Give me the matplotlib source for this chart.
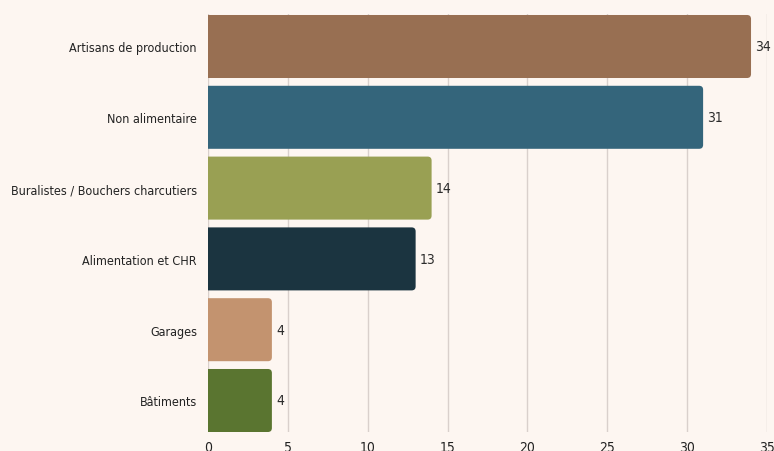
import matplotlib
matplotlib.use('Agg')
import matplotlib.pyplot as plt
from matplotlib.patches import FancyBboxPatch

# Data
categories = ['Artisans de production', 'Non alimentaire', 'Buralistes / Bouchers charcutiers',
              'Alimentation et CHR', 'Garages', 'Bâtiments']
values = [34, 31, 14, 13, 4, 4]
colors = ['#986f52', '#34657b', '#99a053', '#1b3440', '#c3936f', '#5a7530']
x_ticks = [0, 5, 10, 15, 20, 25, 30, 35]

# condensed face to get close to the narrow font of the original
plt.rcParams['font.family'] = ['DejaVu Sans']
plt.rcParams['font.stretch'] = 'condensed'

bg = '#fdf6f1'
fig = plt.figure(figsize=(7.74, 4.52), dpi=100, facecolor=bg)
ax = fig.add_axes([208 / 774, 1 - 433 / 452, 559 / 774, 418 / 452], facecolor=bg)

ax.set_xlim(0, 35)
ax.set_ylim(5.445, -0.459)

bar_h = 0.89
for i, (v, c) in enumerate(zip(values, colors)):
    # rounded bar, left corners hidden behind the axis
    patch = FancyBboxPatch((-0.5, i - bar_h / 2), v + 0.5, bar_h,
                           boxstyle='round,pad=0,rounding_size=0.25',
                           mutation_aspect=0.225, facecolor=c, edgecolor='none',
                           zorder=3, clip_on=True)
    ax.add_patch(patch)
    ax.text(v + 0.25, i, str(v), va='center', ha='left', fontsize=10, color='#2b2b2b', zorder=4)

ax.set_yticks(range(len(categories)))
ax.set_yticklabels(categories, fontsize=9, color='#222222')
ax.set_xticks(x_ticks)
ax.set_xticklabels([str(t) for t in x_ticks], fontsize=10, color='#222222')
ax.tick_params(axis='both', length=0)
ax.tick_params(axis='y', pad=8)
ax.tick_params(axis='x', pad=6)

ax.grid(axis='x', color='#d9d0cc', linewidth=1, zorder=0)
ax.axvline(0, color='#b0a8a5', linewidth=1.2, zorder=1)
for s in ax.spines.values():
    s.set_visible(False)

fig.savefig('out.png', dpi=100, facecolor=bg)
